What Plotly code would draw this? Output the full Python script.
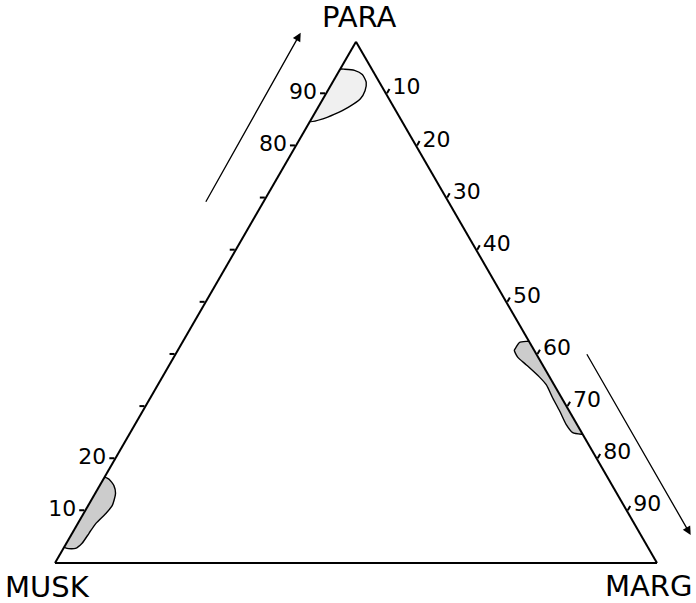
import plotly.graph_objects as go

W, H = 696, 603

# Tick values / labels
para_ticks = [10, 20, 30, 40, 50, 60, 70, 80, 90]
para_ticktext = ["10", "20", "", "", "", "", "", "80", "90"]
marg_ticks = [10, 20, 30, 40, 50, 60, 70, 80, 90]
marg_ticktext = ["10", "20", "30", "40", "50", "60", "70", "80", "90"]

# Field near PARA apex (percent PARA / MARG; MUSK is the remainder)
top_para = [94.7, 94.7, 94.5, 93.7, 92.2, 90.6, 89.0, 87.4, 86.1, 85.2, 84.7, 94.7]
top_marg = [0.0, 0.8, 2.5, 4.2, 5.6, 6.2, 6.2, 5.0, 3.4, 1.9, 0.0, 0.0]

# Field along the PARA-MARG edge
right_para = [42.5, 42.5, 42.3, 41.4, 40.8, 39.5, 38.0, 35.7, 34.2, 31.6, 29.1, 26.6, 25.0, 24.7, 24.7, 42.5]
right_marg = [57.5, 57.0, 56.0, 55.9, 55.9, 57.1, 59.3, 62.6, 64.5, 66.9, 69.3, 71.6, 73.5, 75.1, 75.3, 57.5]

# Field near MUSK corner
left_para = [16.4, 16.1, 14.8, 13.3, 11.0, 9.5, 7.6, 5.7, 3.8, 2.8, 2.8, 3.1, 16.4]
left_marg = [0.0, 0.9, 2.4, 3.4, 4.0, 3.7, 3.0, 2.8, 2.6, 2.0, 0.6, 0.0, 0.0]


def rest(p, m):
    return [round(100 - x - y, 2) for x, y in zip(p, m)]


def field(para, marg, fill):
    return go.Scatterternary(
        a=para, b=rest(para, marg), c=marg, mode="lines", fill="toself",
        fillcolor=fill,
        line=dict(color="black", width=1.4, shape="spline", smoothing=0.6),
        hoverinfo="skip", showlegend=False,
    )


fig = go.Figure()
fig.add_trace(field(top_para, top_marg, "rgba(0,0,0,0.06)"))
fig.add_trace(field(right_para, right_marg, "rgba(0,0,0,0.2)"))
fig.add_trace(field(left_para, left_marg, "rgba(0,0,0,0.2)"))

# Triangle placement (pixels)
x_left, x_right, y_bottom = 55, 657, 563
side = x_right - x_left
tri_h = side * 3 ** 0.5 / 2
y_top = y_bottom - tri_h

FONT = "DejaVu Sans"
tickfont = dict(family=FONT, size=22, color="black")
axis_common = dict(showgrid=False, linecolor="black", linewidth=2, min=0,
                   tickfont=tickfont, ticklen=5, tickcolor="black", tickwidth=1.5)

fig.update_layout(
    width=W, height=H,
    margin=dict(l=0, r=0, t=0, b=0),
    paper_bgcolor="white",
    showlegend=False,
    font=dict(family=FONT, color="black"),
    ternary=dict(
        sum=100,
        bgcolor="white",
        domain=dict(x=[x_left / W, x_right / W],
                    y=[(H - y_bottom) / H, (H - y_top) / H]),
        aaxis=dict(**axis_common, tickmode="array", tickvals=para_ticks,
                   ticktext=para_ticktext, ticks="outside", title=dict(text="")),
        baxis=dict(**axis_common, showticklabels=False, ticks="",
                   title=dict(text="")),
        caxis=dict(**axis_common, tickmode="array", tickvals=marg_ticks,
                   ticktext=marg_ticktext, ticks="outside", title=dict(text="")),
    ),
)

labels = [("PARA", 359, 17), ("MUSK", 47, 587), ("MARG", 648, 586)]
for txt, px, py in labels:
    fig.add_annotation(text=txt, x=px / W, y=1 - py / H, xref="paper", yref="paper",
                       showarrow=False, xanchor="center", yanchor="middle",
                       font=dict(family=FONT, size=29, color="black"))

arrows = [((300.7, 32.7), (205, 203.3)), ((690.7, 535), (586, 352.7))]
for (tx, ty), (sx, sy) in arrows:
    fig.add_annotation(text="", x=tx / W, y=1 - ty / H, xref="paper", yref="paper",
                       ax=sx - tx, ay=sy - ty, showarrow=True, arrowhead=2,
                       arrowsize=1.3, arrowwidth=1.3, arrowcolor="black")

fig.write_html("out.html", config={"displayModeBar": False},
               post_script="document.body.style.margin='0';document.body.style.padding='0';")
